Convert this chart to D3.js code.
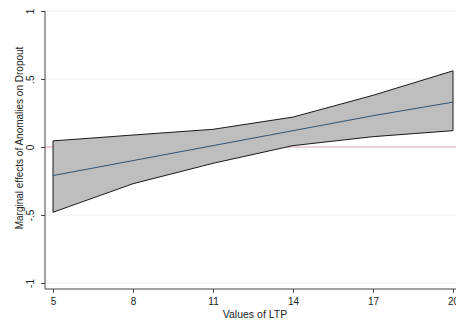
<!DOCTYPE html>
<html>
<head>
<meta charset="utf-8">
<script src="https://cdn.jsdelivr.net/npm/d3@7"></script>
<style>
  body { margin: 0; background: #fff; }
  text { font-family: "Liberation Sans", Arial, sans-serif; fill: #222; }
</style>
</head>
<body>
<div id="chart"></div>
<script>
"use strict";

var ltpValues = [5, 8, 11, 14, 17, 20];
var effect = [-0.21, -0.10, 0.01, 0.12, 0.23, 0.33];
var upperCI = [0.045, 0.088, 0.13, 0.22, 0.38, 0.56];
var lowerCI = [-0.48, -0.27, -0.12, 0.01, 0.076, 0.12];
var xTicks = [5, 8, 11, 14, 17, 20];
var yTicks = [-1, -0.5, 0, 0.5, 1];
var yTickLabels = ["-1", "-.5", "0", ".5", "1"];

var width = 456, height = 326;
var margin = { top: 11, right: 3, bottom: 37, left: 53 };

var svg = d3.select("#chart")
    .append("svg")
    .attr("width", width)
    .attr("height", height);

var x = d3.scaleLinear().domain([5, 20]).range([margin.left, width - margin.right]);
var y = d3.scaleLinear().domain([-1, 1]).range([283, margin.top]);

var axisX = 45, axisY = 289;

// grid lines
svg.append("g").selectAll("line")
    .data(yTicks.filter(function(d) { return d !== 0; }))
    .enter().append("line")
    .attr("x1", axisX).attr("x2", width)
    .attr("y1", function(d) { return y(d); })
    .attr("y2", function(d) { return y(d); })
    .attr("stroke", "#eceef0")
    .attr("stroke-width", 1);

var rows = ltpValues.map(function(v, i) {
    return { x: v, m: effect[i], lo: lowerCI[i], hi: upperCI[i] };
});

var area = d3.area()
    .x(function(d) { return x(d.x); })
    .y0(function(d) { return y(d.lo); })
    .y1(function(d) { return y(d.hi); });

// zero reference line
svg.append("line")
    .attr("x1", axisX).attr("x2", width)
    .attr("y1", y(0)).attr("y2", y(0))
    .attr("stroke", "#d9a3b3")
    .attr("stroke-width", 1.2);

// confidence band
svg.append("path")
    .datum(rows)
    .attr("d", area)
    .attr("fill", "#bebebe")
    .attr("stroke", "#1a1a1a")
    .attr("stroke-width", 1);

// marginal effect line
svg.append("path")
    .datum(rows)
    .attr("d", d3.line()
        .x(function(d) { return x(d.x); })
        .y(function(d) { return y(d.m); }))
    .attr("fill", "none")
    .attr("stroke", "#2f5475")
    .attr("stroke-width", 1);

// axes
var xAxis = d3.axisBottom(x).tickValues(xTicks).tickSize(4).tickSizeOuter(0);
var gx = svg.append("g")
    .attr("transform", "translate(0," + axisY + ")")
    .call(xAxis);
gx.select(".domain").attr("d", "M" + axisX + ",0H" + width);
gx.selectAll("line, path").attr("stroke", "#444");
gx.selectAll("text").attr("font-size", 10).attr("dy", "0.9em").attr("fill", "#222");

var yAxis = d3.axisLeft(y).tickValues(yTicks).tickSize(4).tickSizeOuter(0)
    .tickFormat(function(d, i) { return yTickLabels[i]; });
var gy = svg.append("g")
    .attr("transform", "translate(" + axisX + ",0)")
    .call(yAxis);
gy.select(".domain").attr("d", "M0," + y(1) + "V" + axisY);
gy.selectAll("line, path").attr("stroke", "#444");
gy.selectAll("text")
    .attr("font-size", 10)
    .attr("fill", "#222")
    .attr("x", null).attr("dy", null)
    .attr("text-anchor", "middle")
    .attr("transform", "translate(-11.5,0) rotate(-90)");

// titles
svg.append("text")
    .attr("x", 255)
    .attr("y", 318)
    .attr("text-anchor", "middle")
    .attr("font-size", 10.5)
    .text("Values of LTP");

svg.append("text")
    .attr("transform", "translate(23,138) rotate(-90)")
    .attr("text-anchor", "middle")
    .attr("font-size", 10)
    .text("Marginal effects of Anomalies on Dropout");
</script>
</body>
</html>
